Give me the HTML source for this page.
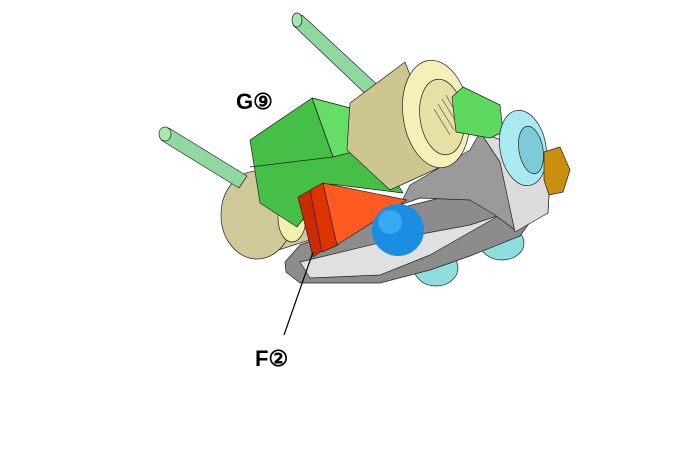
<!DOCTYPE html>
<html><head><style>body{margin:0;background:#fff}svg{display:block}</style></head><body>
<svg width="700" height="456" viewBox="0 0 700 456" xmlns="http://www.w3.org/2000/svg" stroke="#222" stroke-width="0.7" stroke-linejoin="round">
<!-- cyan bottom cones -->
<ellipse cx="436" cy="268" rx="22" ry="18" fill="#8fdede"/>
<ellipse cx="502" cy="243" rx="22" ry="17" fill="#8fdede"/>
<!-- gray base plate -->
<polygon points="285,262 300,245 400,208 480,188 505,200 530,222 520,236 470,256 430,270 380,283 300,283 286,272" fill="#8c8c8c"/>
<polygon points="300,262 400,238 470,225 500,215 430,255 380,275 310,278" fill="#e0e0e0"/>
<!-- gray right block -->
<polygon points="480,132 540,155 550,175 548,213 515,230 495,215 470,200 420,198 400,205 410,185 470,150" fill="#9a9a9a"/>
<polygon points="480,132 540,155 550,175 548,213 515,232 500,162" fill="#dcdcdc"/>
<!-- yellow left cylinder -->
<polygon points="256,170 300,160 310,240 256,257" fill="#cfc99a"/>
<ellipse cx="257" cy="215" rx="36" ry="44" fill="#cfc99a"/>
<ellipse cx="292" cy="218" rx="14" ry="24" fill="#f4f0b0"/>
<!-- green rods -->
<polygon points="161,140 169,128 247,176 239,188" fill="#8fd9a0"/>
<ellipse cx="165" cy="134" rx="6" ry="7" fill="#a8e8b0"/>
<polygon points="293,25 302,15 383,90 372,100" fill="#8fd9a0"/>
<ellipse cx="297" cy="20" rx="5" ry="7" fill="#a8e8b0"/>
<!-- green hex box -->
<polygon points="250,140 312,98 350,108 403,193 330,184 297,227 260,203" fill="#45bf45"/>
<polygon points="312,98 350,108 360,150 333,157" fill="#66dd66"/>
<line x1="250" y1="167" x2="333" y2="157"/>
<line x1="333" y1="157" x2="312" y2="98"/>
<!-- yellow right cylinder -->
<polygon points="350,103 405,62 445,165 390,190 347,150" fill="#cdc690"/>
<ellipse cx="436" cy="114" rx="33" ry="54" transform="rotate(-8 436 114)" fill="#f4f0b8"/>
<ellipse cx="442" cy="117" rx="22" ry="38" transform="rotate(-8 442 117)" fill="#e6e0a4"/>
<g stroke="#555"><line x1="438" y1="104" x2="454" y2="130"/><line x1="434" y1="109" x2="450" y2="135"/><line x1="442" y1="99" x2="458" y2="125"/><line x1="446" y1="95" x2="460" y2="120"/></g>
<!-- green right box -->
<polygon points="452,97 463,87 500,105 503,132 490,138 456,132" fill="#5ed95e"/>
<!-- cyan ring -->
<ellipse cx="523" cy="148" rx="23" ry="38" transform="rotate(-10 523 148)" fill="#a8eaf0"/>
<ellipse cx="531" cy="150" rx="12" ry="24" transform="rotate(-10 531 150)" fill="#7cccd8"/>
<!-- gold nut -->
<polygon points="544,152 560,147 570,170 563,192 549,195 544,180" fill="#c8900e"/>
<!-- red discs + orange cone -->
<polygon points="298,197 323,183 330,245 313,257" fill="#cc2a00"/>
<polygon points="310,190 323,183 338,245 322,252" fill="#dd3300"/>
<polygon points="323,183 407,200 337,245" fill="#ff5a22"/>
<!-- blue sphere -->
<circle cx="398" cy="230" r="26" fill="#1a8ee0" stroke="none"/>
<circle cx="390" cy="222" r="12" fill="#3aa8f0" stroke="none"/>
<!-- leader -->
<line x1="313" y1="252" x2="284" y2="335" stroke="#000" stroke-width="1.2"/>
<text x="236" y="109" font-family="Liberation Sans, sans-serif" font-weight="bold" font-size="22" fill="#000" stroke="none">G⑨</text>
<text x="255" y="366" font-family="Liberation Sans, sans-serif" font-weight="bold" font-size="22" fill="#000" stroke="none">F②</text>
</svg>
</body></html>
